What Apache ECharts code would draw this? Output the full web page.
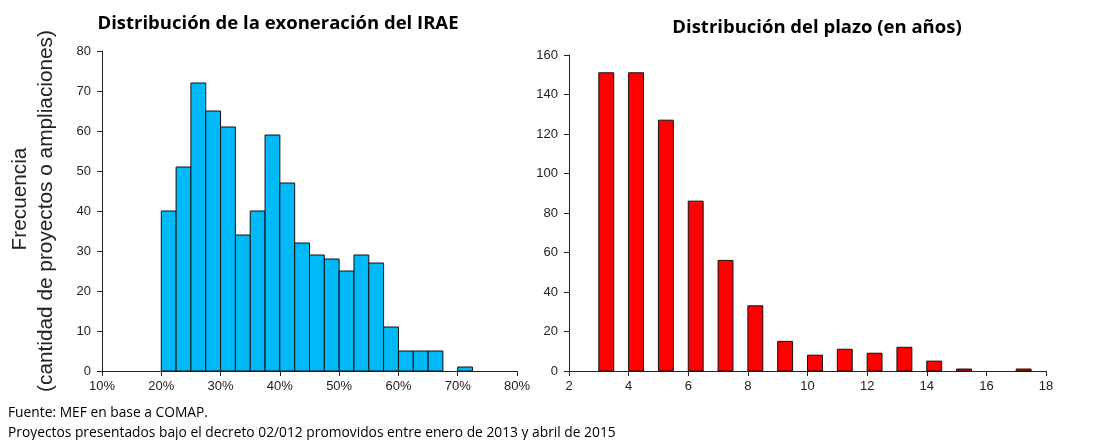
<!DOCTYPE html>
<html>
<head>
<meta charset="utf-8">
<script src="https://cdn.jsdelivr.net/npm/echarts@6/dist/echarts.min.js"></script>
<style>
html, body { margin: 0; padding: 0; background: #fff; }
#chart { width: 1112px; height: 440px; }
</style>
</head>
<body>
<div id="chart"></div>
<script>
// exoneración del IRAE: bins de 2.5 puntos (inicio, fin) y frecuencia
var irayBinStart = [20, 22.5, 25, 27.5, 30, 32.5, 35, 37.5, 40, 42.5, 45, 47.5, 50, 52.5, 55, 57.5, 60, 62.5, 65, 67.5, 70];
var irayBinEnd   = [22.5, 25, 27.5, 30, 32.5, 35, 37.5, 40, 42.5, 45, 47.5, 50, 52.5, 55, 57.5, 60, 62.5, 65, 67.5, 70, 72.5];
var irayFreq     = [40, 51, 72, 65, 61, 34, 40, 59, 47, 32, 29, 28, 25, 29, 27, 11, 5, 5, 5, 0, 1];

// plazo en años
var plazoAnios = [3, 4, 5, 6, 7, 8, 9, 10, 11, 12, 13, 14, 15, 16, 17];
var plazoFreq  = [151, 151, 127, 86, 56, 33, 15, 8, 11, 9, 12, 5, 1, 0, 1];

var leftTitle = 'Distribución de la exoneración del IRAE';
var rightTitle = 'Distribución del plazo (en años)';

var chart = echarts.init(document.getElementById('chart'), null, {renderer: 'canvas'});

var irayData = irayFreq.map(function (v, i) { return [irayBinStart[i], irayBinEnd[i], v]; });
var plazoData = plazoFreq.map(function (v, i) { return [plazoAnios[i], plazoAnios[i] + 0.5, v]; });

function makeRender(color) {
    return function (params, api) {
        var v = api.value(2);
        if (!v) return null;
        var p0 = api.coord([api.value(0), v]);
        var p1 = api.coord([api.value(1), 0]);
        return {
            type: 'rect',
            shape: {x: p0[0], y: p0[1], width: p1[0] - p0[0], height: p1[1] - p0[1]},
            style: {fill: color, stroke: '#111', lineWidth: 1}
        };
    };
}

var axisFont = {color: '#222', fontFamily: 'Liberation Sans', fontSize: 13};
var axisLine = {show: true, lineStyle: {color: '#222', width: 1}};
var axisTick = {show: true, length: 5, lineStyle: {color: '#222'}};

var option = {
    animation: false,
    grid: [
        {left: 102, right: 595, top: 51, bottom: 69},
        {left: 569, right: 66, top: 55, bottom: 69}
    ],
    xAxis: [
        {
            type: 'value', gridIndex: 0, min: 10, max: 80, interval: 10,
            axisLine: axisLine, axisTick: axisTick, splitLine: {show: false},
            axisLabel: Object.assign({formatter: '{value}%', margin: 9}, axisFont)
        },
        {
            type: 'value', gridIndex: 1, min: 2, max: 18, interval: 2,
            axisLine: axisLine, axisTick: axisTick, splitLine: {show: false},
            axisLabel: Object.assign({margin: 9}, axisFont)
        }
    ],
    yAxis: [
        {
            type: 'value', gridIndex: 0, min: 0, max: 80, interval: 10,
            axisLine: axisLine, axisTick: axisTick, splitLine: {show: false},
            axisLabel: Object.assign({margin: 11}, axisFont)
        },
        {
            type: 'value', gridIndex: 1, min: 0, max: 160, interval: 20,
            axisLine: axisLine, axisTick: axisTick, splitLine: {show: false},
            axisLabel: Object.assign({margin: 11}, axisFont)
        }
    ],
    series: [
        {
            type: 'custom', xAxisIndex: 0, yAxisIndex: 0,
            renderItem: makeRender('#00B9F8'),
            encode: {x: [0, 1], y: 2},
            data: irayData
        },
        {
            type: 'custom', xAxisIndex: 1, yAxisIndex: 1,
            renderItem: makeRender('#FF0000'),
            encode: {x: [0, 1], y: 2},
            data: plazoData
        }
    ],
    graphic: [
        {type: 'text', x: 278, y: 24, style: {text: leftTitle, fontFamily: 'Open Sans', fontWeight: 'bold', fontSize: 18.5, fill: '#000', align: 'center', verticalAlign: 'middle'}},
        {type: 'text', x: 817, y: 28, style: {text: rightTitle, fontFamily: 'Open Sans', fontWeight: 'bold', fontSize: 18.5, fill: '#000', align: 'center', verticalAlign: 'middle'}},
        {type: 'text', x: 20, y: 199, rotation: Math.PI / 2, style: {text: 'Frecuencia', fontFamily: 'Liberation Sans', fontSize: 20.8, fill: '#222', align: 'center', verticalAlign: 'middle'}},
        {type: 'text', x: 46, y: 211, rotation: Math.PI / 2, style: {text: '(cantidad de proyectos o ampliaciones)', fontFamily: 'Liberation Sans', fontSize: 20.8, fill: '#222', align: 'center', verticalAlign: 'middle'}},
        {type: 'text', x: 8, y: 413, style: {text: 'Fuente: MEF en base a COMAP.', fontFamily: 'Open Sans', fontSize: 13.8, fill: '#000', verticalAlign: 'middle'}},
        {type: 'text', x: 8, y: 433, style: {text: 'Proyectos presentados bajo el decreto 02/012 promovidos entre enero de 2013 y abril de 2015', fontFamily: 'Open Sans', fontSize: 13.8, fill: '#000', verticalAlign: 'middle'}}
    ]
};
chart.setOption(option);
</script>
</body>
</html>
